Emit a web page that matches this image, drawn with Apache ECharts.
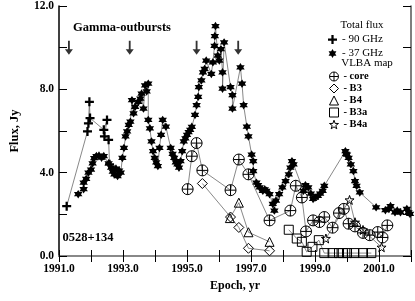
<!DOCTYPE html>
<html><head><meta charset="utf-8">
<script src="https://cdn.jsdelivr.net/npm/echarts@6/dist/echarts.min.js"></script>
<style>html,body{margin:0;padding:0;background:#fff}#c{width:415px;height:301px}</style>
</head><body><div id="c"></div>
<script>
// Total flux, 90 GHz  [epoch, Jy]
const flux90 = [[1991.24,2.39],[1991.89,5.98],[1991.92,6.37],[1991.95,7.40],[1991.97,6.62],
  [1992.40,6.06],[1992.50,6.53],[1992.42,5.74],[1992.55,5.58],[1992.58,4.40]];
// Total flux, 37 GHz
const flux37 = [[1991.60,2.97],[1991.77,3.21],[1991.77,3.52],[1991.85,3.70],[1991.92,4.00],[1992.00,4.15],
  [1992.05,4.45],[1992.10,4.70],[1992.17,4.80],[1992.25,4.82],[1992.33,4.72],[1992.40,4.80],[1992.55,4.45],
  [1992.63,4.24],[1992.68,4.05],[1992.73,3.92],[1992.78,4.20],[1992.83,3.84],[1992.88,4.10],[1992.93,4.00],
  [1992.98,4.71],[1993.03,5.19],[1993.08,5.74],[1993.13,5.98],[1993.18,6.29],[1993.23,6.45],[1993.28,7.48],
  [1993.33,6.85],[1993.38,7.16],[1993.48,7.40],[1993.54,7.56],[1993.58,7.80],[1993.64,7.08],[1993.69,8.19],
  [1993.74,7.90],[1993.79,8.27],[1993.79,6.53],[1993.84,6.13],[1993.89,5.50],[1993.94,5.03],[1993.99,4.71],
  [1994.04,4.50],[1994.09,4.32],[1994.14,5.19],[1994.19,5.82],[1994.24,6.53],[1994.34,6.21],[1994.49,5.19],
  [1994.55,4.90],[1994.60,4.71],[1994.65,4.50],[1994.70,4.40],[1994.75,4.24],[1994.80,4.55],[1994.85,5.03],
  [1994.90,5.50],[1994.95,5.65],[1995.00,5.82],[1995.05,5.95],[1995.10,6.06],[1995.15,6.20],[1995.25,6.77],
  [1995.30,7.24],[1995.35,7.64],[1995.37,8.11],[1995.45,8.43],[1995.50,8.82],[1995.55,8.98],[1995.60,9.38],
  [1995.76,8.74],[1995.81,9.30],[1995.86,10.09],[1995.87,10.56],[1995.89,11.04],[1995.96,9.62],[1996.01,9.38],
  [1996.06,9.93],[1996.11,8.82],[1996.11,8.03],[1996.16,10.25],[1996.36,8.11],[1996.42,7.72],[1996.42,7.08],
  [1996.67,9.06],[1996.72,8.27],[1996.77,7.24],[1996.87,6.21],[1996.92,5.74],[1997.02,4.87],[1997.07,4.55],
  [1997.07,4.08],[1997.17,3.52],[1997.22,3.40],[1997.27,3.29],[1997.37,3.13],[1997.43,3.20],[1997.48,3.13],
  [1997.58,2.97],[1997.68,2.50],[1997.73,2.18],[1997.78,2.66],[1997.88,2.97],[1997.98,3.29],[1998.08,3.60],
  [1998.18,3.92],[1998.23,4.24],[1998.28,4.55],[1998.33,4.40],[1998.64,3.13],[1998.70,3.40],[1998.79,3.29],
  [1998.87,3.00],[1998.94,2.74],[1999.00,2.80],[1999.09,2.89],[1999.16,3.00],[1999.24,3.13],[1999.29,3.37],
  [1999.95,5.03],[1999.97,4.90],[2000.00,4.87],[2000.05,4.71],[2000.12,4.40],[2000.20,4.08],[2000.25,3.60],
  [2000.30,3.37],[2000.40,3.05],[2000.91,2.34],[2001.20,2.20],[2001.31,2.26],[2001.36,2.40],[2001.50,2.10],
  [2001.57,2.18],[2001.67,2.10],[2001.87,2.26],[2001.92,2.10],[2001.97,2.02]];
// VLBA map components
const core = [[1995.02,3.21],[1995.15,4.79],[1995.30,5.42],[1995.48,4.11],[1996.36,3.16],[1996.62,4.63],
  [1996.92,3.92],[1997.58,1.71],[1998.23,2.18],[1998.40,3.37],[1998.59,2.81],[1998.72,1.18],[1998.94,1.71],
  [1999.14,1.63],[1999.29,1.87],[1999.55,1.36],[1999.75,2.06],[1999.90,2.26],[2000.05,1.55],[2000.25,1.42],
  [2000.50,1.11],[2000.71,1.00],[2000.96,1.15],[2001.11,0.89],[2001.26,1.47]];
const b3 = [[1995.48,3.48],[1996.36,1.87],[1996.62,1.37],[1996.92,0.37],[1997.58,0.25]];
const b4 = [[1996.34,1.82],[1996.62,2.56],[1996.92,1.14],[1997.58,0.68]];
const b3a = [[1998.18,1.26],[1998.43,0.84],[1998.59,0.68],[1998.74,0.20],[1998.92,0.44],[1999.12,0.76],
  [1999.29,0.14],[1999.55,0.14],[1999.75,0.14],[1999.87,0.14],[2000.00,0.14],[2000.23,0.14],[2000.50,0.14],[2000.76,0.14]];
const b4a = [[1999.34,0.84],[2000.08,2.69],[2000.25,1.62],[2000.50,1.25],[2001.08,0.42]];
// gamma-ray outburst epochs (arrows)
const outbursts = [1991.31, 1993.21, 1995.30, 1996.60];
const xTickLabels = [1991, 1993, 1995, 1997, 1999, 2001];
const yTickLabels = [0, 4, 8, 12];

const F = 'Liberation Serif';
const plusPath = 'path://M3,0H5V3H8V5H5V8H3V5H0V3H3Z';
const starPath = 'path://M0,-10L2.9,-5L8.7,-5L5.8,0L8.7,5L2.9,5L0,10L-2.9,5L-8.7,5L-5.8,0L-8.7,-5L-2.9,-5Z';
const corePath = 'path://M0,-10A10,10,0,1,1,0,10A10,10,0,1,1,0,-10ZM-10,0L10,0M0,-10L0,10';
const star5Path = 'path://M0,-10L2.35,-3.24L9.51,-3.09L3.8,1.24L5.88,8.09L0,4L-5.88,8.09L-3.8,1.24L-9.51,-3.09L-2.35,-3.24Z';
const arrowPath = 'path://M2.7,0H4.3V8.5H7L3.5,14L0,8.5H2.7Z';

const lineStyle = {color:'#555', width:0.7};
function mk(name, data, symbol, size, filled, z) {
  return {type:'line', name, data, symbol, symbolSize:size, showAllSymbol:true, z,
    lineStyle, animation:false,
    itemStyle: filled ? {color:'#000', borderWidth:0} : {color:'rgba(255,255,255,0)', borderColor:'#000', borderWidth:1}};
}

const chart = echarts.init(document.getElementById('c'), null, {renderer:'canvas'});
const axisCommon = {type:'value', axisLine:{show:true}, splitLine:{show:false}};
chart.setOption({
  animation:false,
  backgroundColor:'#fff',
  grid:{left:48, right:4, top:3, bottom:45},
  xAxis:[
    {...axisCommon, min:1991, max:2002, interval:1, position:'bottom',
     axisLine:{show:true, lineStyle:{color:'#000', width:1.5}},
     axisTick:{inside:true, length:6, lineStyle:{color:'#000'}},
     axisLabel:{margin:7, color:'#000', fontFamily:F, fontWeight:'bold', fontSize:11.5,
       formatter:v => xTickLabels.includes(Math.round(v)) ? v.toFixed(1) : ''},
     name:'Epoch, yr', nameLocation:'middle', nameGap:20,
     nameTextStyle:{fontFamily:F, fontWeight:'bold', fontSize:12, color:'#000'}},
    {...axisCommon, min:1991, max:2002, interval:1, position:'top',
     axisLine:{show:true, lineStyle:{color:'#888', width:2}},
     axisTick:{inside:true, length:6, lineStyle:{color:'#000'}},
     axisLabel:{show:false}}
  ],
  yAxis:[
    {...axisCommon, min:0, max:12, interval:2, position:'left',
     axisLine:{show:true, lineStyle:{color:'#000', width:1.5}},
     axisTick:{inside:true, length:8, lineStyle:{color:'#000'}},
     axisLabel:{margin:5, color:'#000', fontFamily:F, fontWeight:'bold', fontSize:11.5,
       formatter:v => yTickLabels.includes(Math.round(v)) ? v.toFixed(1) : ''},
     name:'Flux, Jy', nameLocation:'middle', nameGap:38,
     nameTextStyle:{fontFamily:F, fontWeight:'bold', fontSize:12.5, color:'#000'}},
    {...axisCommon, min:0, max:12, interval:2, position:'right',
     axisLine:{show:true, lineStyle:{color:'#555', width:1.5}},
     axisTick:{inside:true, length:8, lineStyle:{color:'#000'}},
     axisLabel:{show:false}}
  ],
  legend:[
    {orient:'vertical', left:328, top:34, padding:0, itemWidth:9, itemHeight:9, itemGap:3, itemTextGap:3,
     selectedMode:false, formatter:'- {name}', itemStyle:{borderWidth:0},
     textStyle:{fontFamily:F, fontSize:11, color:'#000', lineHeight:10},
     data:[{name:'90 GHz', icon:plusPath},{name:'37 GHz', icon:starPath}]},
    {orient:'vertical', left:329, top:71, padding:0, itemWidth:9, itemHeight:9, itemGap:1, itemTextGap:3,
     selectedMode:false, formatter:'- {name}', itemStyle:{borderWidth:1},
     textStyle:{fontFamily:F, fontSize:10.5, fontWeight:'bold', color:'#000', lineHeight:9},
     data:[{name:'core', icon:corePath},{name:'B3', icon:'diamond'},{name:'B4', icon:'triangle'},
           {name:'B3a', icon:'rect'},{name:'B4a', icon:star5Path}]}
  ],
  graphic:[
    {type:'text', style:{text:'Total flux', font:'11px "Liberation Serif"', fill:'#000', x:362, y:25, textAlign:'center', textVerticalAlign:'middle'}},
    {type:'text', style:{text:'VLBA map', font:'11px "Liberation Serif"', fill:'#000', x:367, y:63, textAlign:'center', textVerticalAlign:'middle'}},
    {type:'text', style:{text:'Gamma-outbursts', font:'bold 12.5px "Liberation Serif"', fill:'#000', x:122, y:28, textAlign:'center', textVerticalAlign:'middle'}},
    {type:'text', style:{text:'0528+134', font:'bold 12.5px "Liberation Serif"', fill:'#000', x:88, y:238, textAlign:'center', textVerticalAlign:'middle'}}
  ],
  series:[
    mk('37 GHz', flux37, starPath, 8.5, true, 2),
    mk('90 GHz', flux90, plusPath, 9, true, 3),
    mk('core', core, corePath, 11, false, 4),
    mk('B3', b3, 'diamond', 10, false, 4),
    mk('B4', b4, 'triangle', 9, false, 4),
    mk('B3a', b3a, 'rect', 9, false, 4),
    mk('B4a', b4a, star5Path, 9, false, 4),
    {type:'scatter', name:'arrows', data:outbursts.map(x => [x, 10.0]), symbol:arrowPath, symbolSize:[8,14],
     itemStyle:{color:'#000'}, silent:true, z:5}
  ]
});
</script></body></html>
